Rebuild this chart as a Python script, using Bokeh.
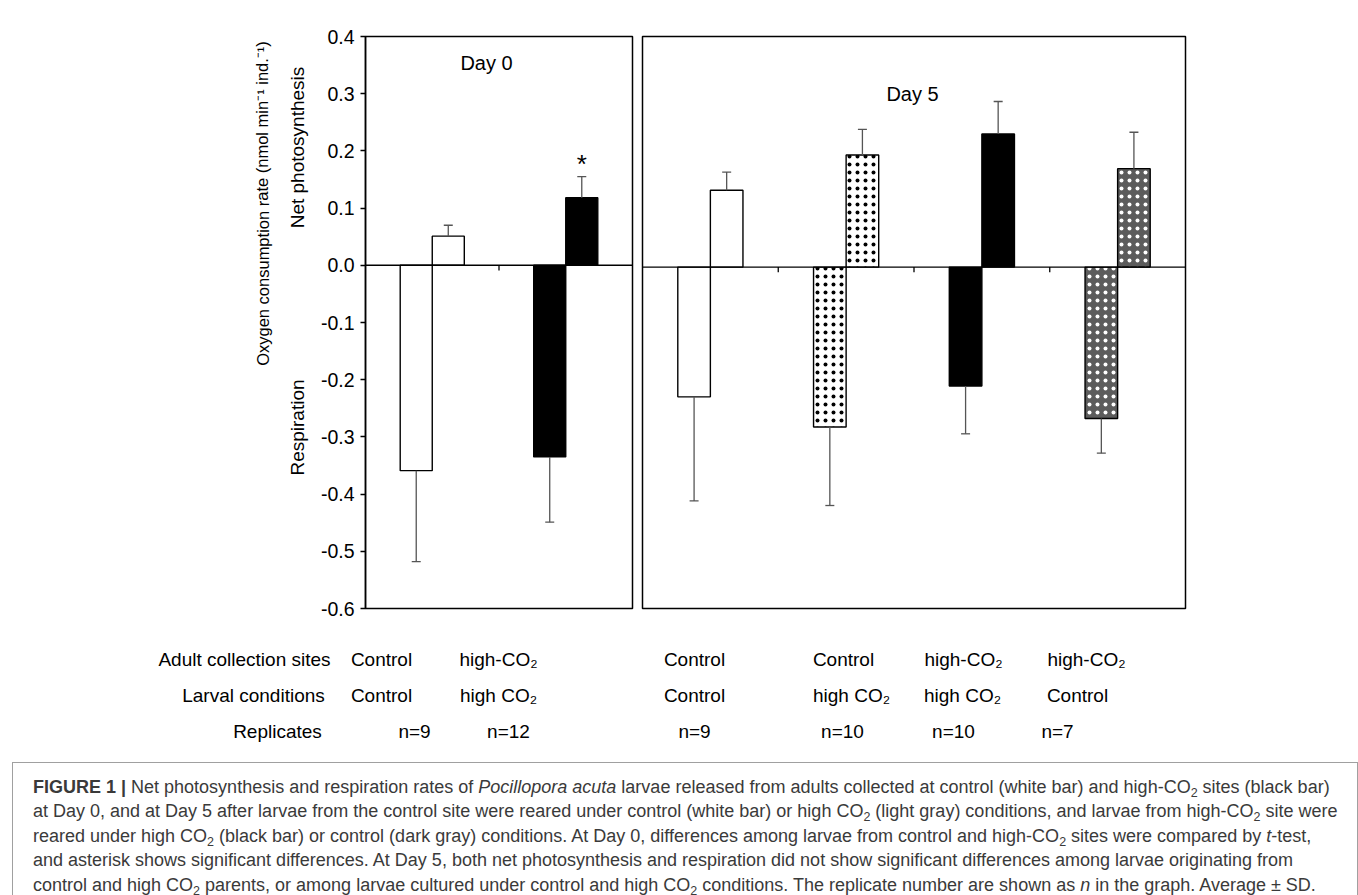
from bokeh.plotting import figure
from bokeh.layouts import row, column
from bokeh.models import Range1d, Span, Label, FixedTicker, Div, ColumnDataSource, NumeralTickFormatter
from bokeh.core.properties import value
from bokeh.embed import file_html
from bokeh.resources import INLINE

# ---------------- data ----------------
day0_resp = [-0.359, -0.335]
day0_resp_sd = [0.159, 0.114]
day0_photo = [0.051, 0.118]
day0_photo_sd = [0.019, 0.037]

day5_resp = [-0.228, -0.281, -0.209, -0.266]
day5_resp_sd = [0.183, 0.138, 0.084, 0.061]
day5_photo = [0.135, 0.197, 0.234, 0.173]
day5_photo_sd = [0.032, 0.045, 0.057, 0.064]

site_labels = ["Control", "high-CO\u2082", "Control", "Control", "high-CO\u2082", "high-CO\u2082"]
larval_labels = ["Control", "high CO\u2082", "Control", "high CO\u2082", "high CO\u2082", "Control"]
replicate_labels = ["n=9", "n=12", "n=9", "n=10", "n=10", "n=7"]
row_names = ["Adult collection sites", "Larval conditions", "Replicates"]
y_titles = ["Net photosynthesis", "Respiration"]
y_title_main = "Oxygen consumption rate (nmol min\u207b\u00b9 ind.\u207b\u00b9)"
y_ticks = [-0.6, -0.5, -0.4, -0.3, -0.2, -0.1, 0.0, 0.1, 0.2, 0.3, 0.4]

# ---------------- layout constants ----------------
FONT = "Liberation Sans"
TOP_H = 622            # height of the row holding the two panels
BOT_H = 755 - TOP_H    # strip with the label rows
BW = 0.24
F1_LEFT, F1_RIGHT = 365, 632
F2_LEFT, F2_RIGHT = 642, 1185
LEFT_W = 311
Y_PX = 572.0
ZERO_PX = 36 + 0.4 * Y_PX

def f1x(px):
    return (px - F1_LEFT) / ((F1_RIGHT - F1_LEFT) / 2.0) - 0.5

def f2x(px):
    return (px - F2_LEFT) / ((F2_RIGHT - F2_LEFT) / 4.0) - 0.5

def ypx(py):
    return (ZERO_PX - py) / Y_PX

row_y = [659, 695, 731]
col_px = [[381, 498, 694, 843, 963, 1086],
          [381, 498, 694, 851, 962, 1077],
          [414, 508, 694, 842, 953, 1057]]
name_px = [244, 253, 277]


def panel(fig, resp, resp_sd, photo, photo_sd, fills, hatches, hcols):
    n = len(resp)
    idx = list(range(n))
    src = ColumnDataSource(dict(
        xr=[i - BW / 2 for i in idx],
        xp=[i + BW / 2 for i in idx],
        resp=resp, photo=photo,
        lo=[r - s for r, s in zip(resp, resp_sd)],
        hi=[p + s for p, s in zip(photo, photo_sd)],
        fill=fills, hatch=hatches, hcol=hcols,
    ))
    for xcol, top in (("xr", "resp"), ("xp", "photo")):
        fig.vbar(x=xcol, top=top, bottom=0, width=BW, source=src,
                 fill_color="fill", hatch_pattern="hatch", hatch_color="hcol",
                 hatch_scale=8, hatch_weight=0.5,
                 line_color="black", line_width=1.4)
    fig.segment(x0="xr", y0="resp", x1="xr", y1="lo", source=src, line_color="#555555", line_width=1.3)
    fig.segment(x0="xp", y0="photo", x1="xp", y1="hi", source=src, line_color="#555555", line_width=1.3)
    fig.scatter(x="xr", y="lo", source=src, marker="dash", size=9, line_color="#555555", line_width=1.3)
    fig.scatter(x="xp", y="hi", source=src, marker="dash", size=9, line_color="#555555", line_width=1.3)
    seps = [i + 0.5 for i in range(n - 1)]
    fig.segment(x0=seps, y0=[0] * len(seps), x1=seps, y1=[-0.009] * len(seps),
                line_color="black", line_width=1.3)
    fig.add_layout(Span(location=0, dimension="width", line_color="black", line_width=1.4))


def base_fig(width, height, xr, yr, left, right, top, bottom, yaxis=False, outline=True):
    f = figure(width=width, height=height, x_range=xr, y_range=yr,
               output_backend="svg", toolbar_location=None,
               x_axis_location=None, y_axis_location=("left" if yaxis else None),
               min_border_left=left, min_border_right=right,
               min_border_top=top, min_border_bottom=bottom,
               background_fill_color="white", border_fill_color="white")
    f.xgrid.visible = False
    f.ygrid.visible = False
    f.outline_line_color = "black" if outline else None
    f.outline_line_width = 1.5
    return f


y_range_main = Range1d(-0.6, 0.4)
f1 = base_fig(F1_RIGHT + 5 - LEFT_W, TOP_H, Range1d(-0.5, 1.5), y_range_main,
              F1_LEFT - LEFT_W, 5, 36, TOP_H - 608, yaxis=True)
f2 = base_fig(1358 - (F1_RIGHT + 5), TOP_H, Range1d(-0.5, 3.5),
              Range1d(-0.6, (ZERO_PX - 33) / Y_PX),
              5, 1358 - (F1_RIGHT + 5) - 5 - (F2_RIGHT - F2_LEFT), 33, TOP_H - 608)
# left strip for the rotated y titles (shares the y scale of the Day 0 panel)
fl = base_fig(LEFT_W, TOP_H, Range1d(0, LEFT_W), y_range_main, 0, 0, 36, TOP_H - 608, outline=False)
# bottom strip for the rows of labels
fb = base_fig(1358, BOT_H, Range1d(0, 1358), Range1d(755, TOP_H), 0, 0, 0, 0, outline=False)

ax = f1.yaxis[0]
ax.ticker = FixedTicker(ticks=y_ticks)
ax.formatter = NumeralTickFormatter(format="0.0")
ax.axis_line_width = 1.5
ax.axis_line_color = "black"
ax.major_tick_line_width = 1.3
ax.major_tick_line_color = "black"
ax.major_tick_out = 5
ax.major_tick_in = 0
ax.minor_tick_line_color = None
ax.major_label_text_font = FONT
ax.major_label_text_font_size = "19.5px"
ax.major_label_text_color = "black"
ax.major_label_standoff = 6

panel(f1, day0_resp, day0_resp_sd, day0_photo, day0_photo_sd,
      ["white", "black"], [" ", " "], ["black", "black"])
panel(f2, day5_resp, day5_resp_sd, day5_photo, day5_photo_sd,
      ["white", "white", "black", "#5c5c5c"], [" ", "dot", " ", "dot"],
      ["black", "black", "black", "white"])


def lab(fig, x, y, text, size="19px"):
    fig.add_layout(Label(x=x, y=y, text=text, text_font=FONT, text_font_size=size,
                         text_color="black", text_align="center", text_baseline="middle"))

lab(f1, f1x(486), ypx(62), "Day 0", size="20px")
lab(f2, f2x(912), ypx(91), "Day 5", size="20px")
lab(f1, 1 + BW / 2, day0_photo[1] + day0_photo_sd[1] + 13 / Y_PX, "*", size="26px")

# rotated y titles
fl.text(x=[297, 297, 262], y=[ypx(147), ypx(427), ypx(203)],
        text=y_titles + [y_title_main], angle=1.5708,
        text_font=value(FONT), text_font_size=["19px", "19px", "16.5px"],
        text_align="center", text_baseline="middle", text_color="black")

# rows of labels under the panels
xs, ys, ts = [], [], []
for r, texts in enumerate([site_labels, larval_labels, replicate_labels]):
    xs.append(name_px[r]); ys.append(row_y[r]); ts.append(row_names[r])
    for t, px in zip(texts, col_px[r]):
        xs.append(px); ys.append(row_y[r]); ts.append(t)
fb.text(x=xs, y=ys, text=ts, text_font=value(FONT), text_font_size="19px",
        text_align="center", text_baseline="middle", text_color="black")

sub = '<span style="font-size:12.5px;vertical-align:-4px;line-height:0">2</span>'
lines = [
    '<b>FIGURE 1 |</b> Net photosynthesis and respiration rates of <i>Pocillopora acuta</i> larvae released from adults collected at control (white bar) and high-CO' + sub + ' sites (black bar)',
    'at Day 0, and at Day 5 after larvae from the control site were reared under control (white bar) or high CO' + sub + ' (light gray) conditions, and larvae from high-CO' + sub + ' site were',
    'reared under high CO' + sub + ' (black bar) or control (dark gray) conditions. At Day 0, differences among larvae from control and high-CO' + sub + ' sites were compared by <i>t</i>-test,',
    'and asterisk shows significant differences. At Day 5, both net photosynthesis and respiration did not show significant differences among larvae originating from',
    'control and high CO' + sub + ' parents, or among larvae cultured under control and high CO' + sub + ' conditions. The replicate number are shown as <i>n</i> in the graph. Average \u00b1 SD.',
]
html = ('<div style="box-sizing:border-box;margin:2px 5px 0 7px;width:1346px;height:138px;'
        'border:1px solid #a0a0a0;border-bottom:none;padding:12px 0 0 20px;'
        'font-family:\'Liberation Sans\',Arial,sans-serif;font-size:18px;line-height:24.4px;'
        'color:#3a3a3a;white-space:nowrap;">' + '<br>'.join(lines) + '</div>')
caption = Div(text=html, width=1358, height=895 - 755)

layout = column(row(fl, f1, f2), fb, caption)
open("out.html", "w").write(file_html(layout, INLINE))
